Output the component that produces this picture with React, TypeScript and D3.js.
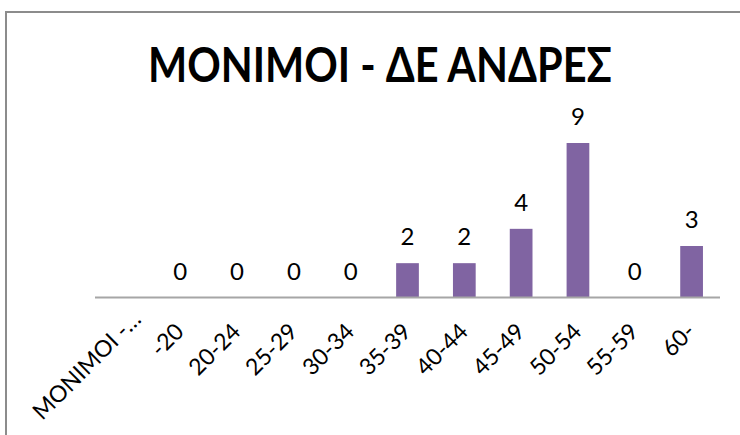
import { useEffect, useRef } from 'react';
import * as d3 from 'd3';

const title = 'MONIMOI - ΔΕ ΑΝΔΡΕΣ';
const categories = ['MONIMOI -…', '-20', '20-24', '25-29', '30-34', '35-39', '40-44', '45-49', '50-54', '55-59', '60-'];
const values: (number | null)[] = [null, 0, 0, 0, 0, 2, 2, 4, 9, 0, 3];

const App = () => {
  const svgRef = useRef<SVGSVGElement | null>(null);

  useEffect(() => {
    const svg = d3.select(svgRef.current);
    svg.selectAll('*').remove();
    const width = 740;
    const height = 435;
    const axisY = 297.5;
    const font = 'Lato, Carlito, Calibri, sans-serif';

    // chart area frame (only top and left edges are visible)
    svg
      .append('rect')
      .attr('x', 6)
      .attr('y', 12)
      .attr('width', width + 20)
      .attr('height', height + 20)
      .attr('fill', '#fff')
      .attr('stroke', '#8c8c8c')
      .attr('stroke-width', 2);

    svg
      .append('text')
      .attr('x', 380)
      .attr('y', 82)
      .attr('text-anchor', 'middle')
      .attr('textLength', 464)
      .attr('lengthAdjust', 'spacingAndGlyphs')
      .style('font-family', font)
      .style('font-weight', 'bold')
      .style('font-size', '47px')
      .attr('fill', '#000')
      .text(title);

    const xScale = d3.scaleBand<string>().domain(categories).range([95, 720]);
    const yScale = d3.scaleLinear().domain([0, 9]).range([axisY, 143]);
    const barWidth = 0.4 * xScale.bandwidth();
    const cx = (c: string) => (xScale(c) as number) + xScale.bandwidth() / 2;

    const data = categories.map((c, i) => ({ c, v: values[i] }));
    const shown = data.filter((d) => d.v !== null) as { c: string; v: number }[];

    svg
      .selectAll('rect.bar')
      .data(shown.filter((d) => d.v > 0))
      .enter()
      .append('rect')
      .attr('class', 'bar')
      .attr('x', (d) => cx(d.c) - barWidth / 2)
      .attr('y', (d) => yScale(d.v))
      .attr('width', barWidth)
      .attr('height', (d) => yScale(0) - yScale(d.v))
      .attr('fill', '#8064a2');

    svg
      .append('line')
      .attr('x1', 95)
      .attr('x2', 720)
      .attr('y1', axisY)
      .attr('y2', axisY)
      .attr('stroke', '#a6a6a6')
      .attr('stroke-width', 2);

    svg
      .selectAll('text.val')
      .data(shown)
      .enter()
      .append('text')
      .attr('class', 'val')
      .attr('x', (d) => cx(d.c))
      .attr('y', (d) => yScale(d.v) - 18)
      .attr('text-anchor', 'middle')
      .style('font-family', font)
      .style('font-size', '24px')
      .attr('fill', '#000')
      .text((d) => d.v);

    svg
      .selectAll('text.cat')
      .data(categories)
      .enter()
      .append('text')
      .attr('class', 'cat')
      .attr('text-anchor', 'end')
      .attr('transform', (c) => {
        // truncated label sits a bit further along its baseline
        const shift = c.endsWith('…') ? 19 : 0;
        const px = cx(c) + 5 + shift * 0.74;
        const py = axisY + 35.5 - shift * 0.64;
        return `translate(${px},${py}) rotate(-45)`;
      })
      .style('font-family', font)
      .style('font-size', '23px')
      .attr('fill', '#000')
      .text((c) => c);
  }, []);

  return (
    <svg
      ref={svgRef}
      width="740"
      height="435"
      style={{ position: 'absolute', left: 0, top: 0, background: '#fff' }}
    ></svg>
  );
};

export default App;
